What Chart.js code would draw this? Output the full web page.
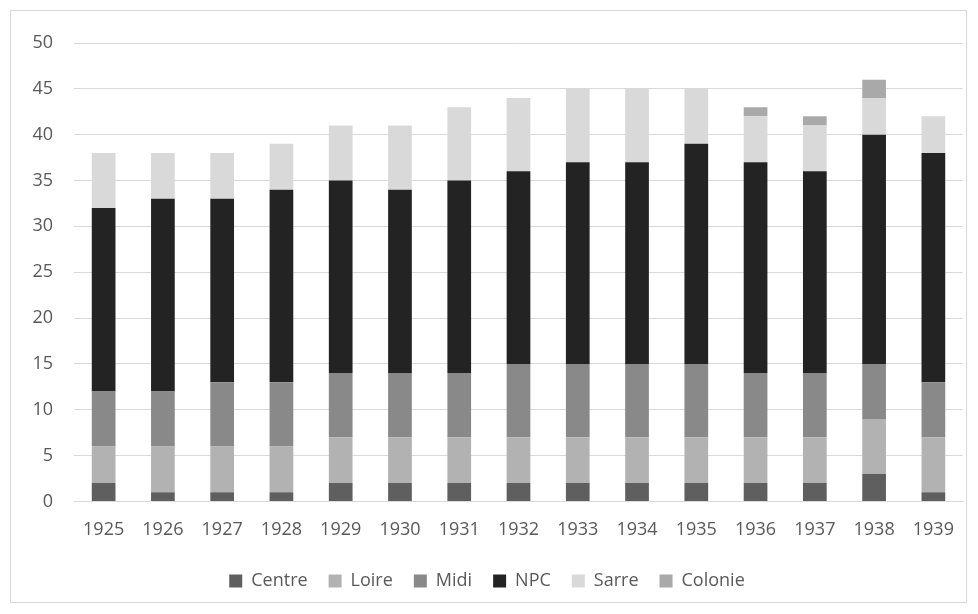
<!DOCTYPE html>
<html>
<head>
<meta charset="utf-8">
<script src="https://cdn.jsdelivr.net/npm/chart.js@4"></script>
<style>
  html, body { margin: 0; padding: 0; background: #fff; }
  #wrap { position: absolute; left: 10px; top: 10px; width: 955px; height: 591px; border: 1px solid #d9d9d9; }
</style>
</head>
<body>
<div id="wrap"><canvas id="chart" width="955" height="591"></canvas></div>
<script>
// années et effectifs par région
const years = ['1925', '1926', '1927', '1928', '1929', '1930', '1931', '1932', '1933', '1934', '1935', '1936', '1937', '1938', '1939'];
const centre  = [2, 1, 1, 1, 2, 2, 2, 2, 2, 2, 2, 2, 2, 3, 1];
const loire   = [4, 5, 5, 5, 5, 5, 5, 5, 5, 5, 5, 5, 5, 6, 6];
const midi    = [6, 6, 7, 7, 7, 7, 7, 8, 8, 8, 8, 7, 7, 6, 6];
const npc     = [20, 21, 20, 21, 21, 20, 21, 21, 22, 22, 24, 23, 22, 25, 25];
const sarre   = [6, 5, 5, 5, 6, 7, 8, 8, 8, 8, 6, 5, 5, 4, 4];
const colonie = [0, 0, 0, 0, 0, 0, 0, 0, 0, 0, 0, 1, 1, 2, 0];

const font = { family: '"Open Sans", sans-serif', size: 18 };
Chart.defaults.color = '#595959';

function serie(label, values, color) {
  return {
    label: label,
    data: values,
    backgroundColor: color,
    borderWidth: 0,
    barPercentage: 0.4,
    categoryPercentage: 1
  };
}

new Chart(document.getElementById('chart'), {
  type: 'bar',
  data: {
    labels: years,
    datasets: [
      serie('Centre', centre, '#5f5f5f'),
      serie('Loire', loire, '#b2b2b2'),
      serie('Midi', midi, '#898989'),
      serie('NPC', npc, '#232323'),
      serie('Sarre', sarre, '#d9d9d9'),
      serie('Colonie', colonie, '#a9a9a9')
    ]
  },
  options: {
    responsive: false,
    animation: false,
    layout: { padding: { top: 32, right: 3, bottom: 2, left: 0 } },
    plugins: {
      tooltip: { enabled: false },
      legend: {
        position: 'bottom',
        labels: { font: font, boxWidth: 13, boxHeight: 13, padding: 21 }
      }
    },
    scales: {
      x: {
        stacked: true,
        grid: { display: false },
        border: { color: '#d9d9d9' },
        ticks: { font: font, padding: 10 }
      },
      y: {
        stacked: true,
        min: 0,
        max: 50,
        ticks: { stepSize: 5, font: font, padding: 21 },
        grid: { color: '#d9d9d9', drawTicks: false },
        border: { display: false },
        afterFit: function (scale) { scale.width = 63; }
      }
    }
  }
});
</script>
</body>
</html>
